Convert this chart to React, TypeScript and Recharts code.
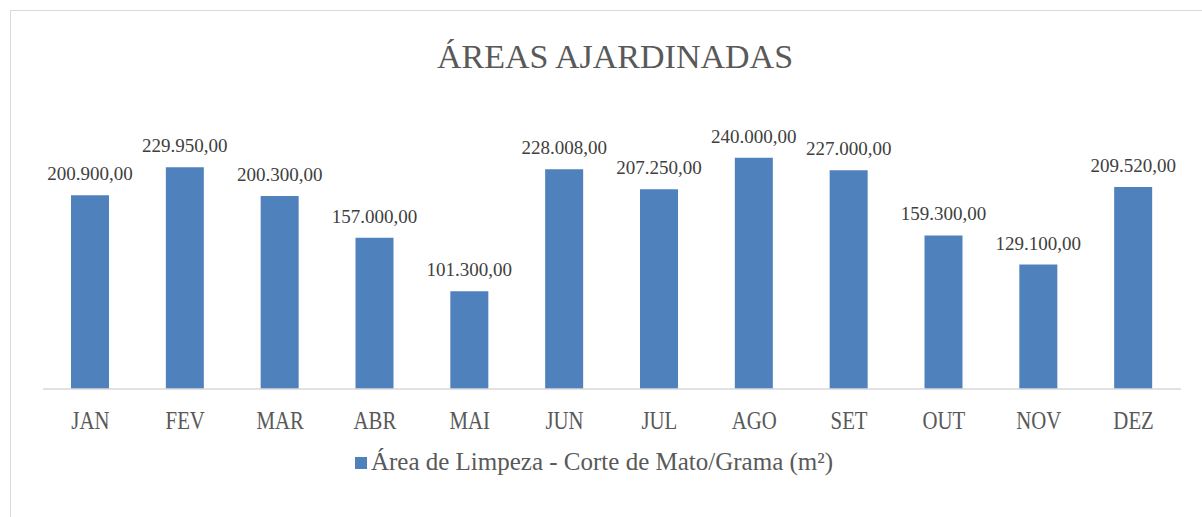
import React from 'react';
import { BarChart, Bar, XAxis, YAxis, LabelList, Legend } from 'recharts';

const months = ['JAN', 'FEV', 'MAR', 'ABR', 'MAI', 'JUN', 'JUL', 'AGO', 'SET', 'OUT', 'NOV', 'DEZ'];
const areaValues = [200900, 229950, 200300, 157000, 101300, 228008, 207250, 240000, 227000, 159300, 129100, 209520];
const seriesName = 'Área de Limpeza - Corte de Mato/Grama (m²)';
const chartTitle = 'ÁREAS AJARDINADAS';

const data = months.map((month, i) => ({ month, area: areaValues[i] }));

const FONT = '"Liberation Serif", "Times New Roman", serif';
const BLUE = '#4F81BD';

// 200900 -> "200.900,00"
function formatBR(v: number) {
  const [int, dec] = v.toFixed(2).split('.');
  return int.replace(/\B(?=(\d{3})+(?!\d))/g, '.') + ',' + dec;
}

function MonthTick({ x, y, payload }: any) {
  return (
    <text
      transform={`translate(${x},${y + 40}) scale(0.8,1)`}
      textAnchor="middle"
      fill="#595959"
      fontSize={26}
      fontFamily={FONT}
    >
      {payload.value}
    </text>
  );
}

function LegendContent() {
  return (
    <div style={{ display: 'flex', justifyContent: 'center', alignItems: 'center', fontFamily: FONT }}>
      <span style={{ width: 12, height: 12, background: BLUE, marginRight: 4, marginTop: 2 }} />
      <span style={{ fontSize: 25, color: '#595959', lineHeight: '30px' }}>{seriesName}</span>
    </div>
  );
}

export default function App() {
  return (
    <div style={{ position: 'absolute', left: 0, top: 0, width: 1202, height: 517, overflow: 'hidden', background: '#fff' }}>
      <div
        style={{
          position: 'absolute',
          left: 10,
          top: 10,
          width: 1300,
          height: 600,
          border: '1.5px solid #d9d9d9',
        }}
      />
      <div
        style={{
          position: 'absolute',
          left: 0,
          width: 1230,
          top: 40,
          textAlign: 'center',
          fontFamily: FONT,
          fontSize: 34,
          lineHeight: 1,
          color: '#595959',
        }}
      >
        {chartTitle}
      </div>
      <div style={{ position: 'absolute', left: 0, top: 0 }}>
        <BarChart width={1202} height={517} data={data} margin={{ top: 148, right: 21, bottom: 68, left: 43 }}>
          <XAxis
            dataKey="month"
            height={60}
            tickLine={false}
            tickSize={0}
            tickMargin={0}
            axisLine={{ stroke: '#d9d9d9', strokeWidth: 1.5 }}
            tick={<MonthTick />}
            interval={0}
          />
          <YAxis hide domain={[0, 250000]} />
          <Legend
            verticalAlign="middle"
            content={<LegendContent />}
            wrapperStyle={{ left: 0, width: 1188, top: 447 }}
          />
          <Bar dataKey="area" name={seriesName} fill={BLUE} barSize={38} isAnimationActive={false}>
            <LabelList
              dataKey="area"
              position="top"
              offset={15}
              formatter={(v: any) => formatBR(Number(v))}
              fill="#404040"
              fontSize={19}
              fontFamily={FONT}
            />
          </Bar>
        </BarChart>
      </div>
    </div>
  );
}
